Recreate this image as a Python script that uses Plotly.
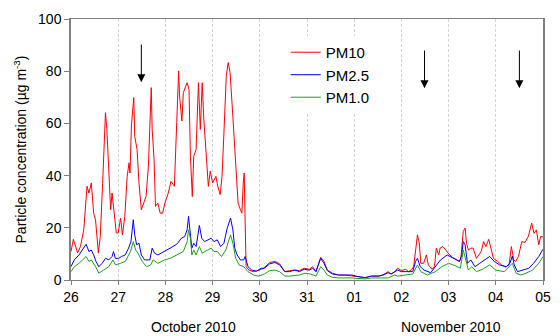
import pandas as pd
import plotly.graph_objects as go

# Particle concentrations, 26 Oct – 5 Nov 2010.
# Times are given in days after 26 Oct 2010 00:00.
start = pd.Timestamp("2010-10-26")

pm10_day = [0.00, 0.05, 0.14, 0.20, 0.27, 0.34, 0.38, 0.43, 0.48, 0.52, 0.58, 0.62, 0.67, 0.71, 0.73,
            0.76, 0.80, 0.84, 0.87, 0.92, 0.96, 1.00, 1.05, 1.09, 1.14, 1.19, 1.23, 1.25, 1.28, 1.33,
            1.35, 1.40, 1.44, 1.49, 1.54, 1.59, 1.64, 1.67, 1.70, 1.72, 1.76, 1.79, 1.84, 1.89, 1.94,
            1.99, 2.06, 2.12, 2.19, 2.24, 2.28, 2.30, 2.35, 2.38, 2.42, 2.46, 2.50, 2.53, 2.57, 2.60,
            2.65, 2.70, 2.74, 2.78, 2.81, 2.86, 2.91, 2.95, 3.00, 3.07, 3.11, 3.16, 3.20, 3.24, 3.29,
            3.33, 3.37, 3.42, 3.47, 3.51, 3.54, 3.59, 3.62, 3.65, 3.67, 3.69, 3.71, 3.77, 3.86, 3.96,
            4.08, 4.21, 4.32, 4.42, 4.53, 4.63, 4.74, 4.84, 4.94, 5.05, 5.12, 5.19, 5.29, 5.36, 5.43,
            5.54, 5.67, 5.81, 5.95, 6.08, 6.23, 6.37, 6.51, 6.61, 6.72, 6.78, 6.85, 6.92, 7.00, 7.09,
            7.15, 7.22, 7.26, 7.34, 7.38, 7.41, 7.47, 7.53, 7.57, 7.65, 7.70, 7.74, 7.79, 7.82, 7.88,
            7.94, 7.99, 8.08, 8.16, 8.23, 8.26, 8.31, 8.35, 8.38, 8.42, 8.47, 8.52, 8.59, 8.64, 8.69,
            8.74, 8.79, 8.85, 8.90, 8.95, 9.04, 9.12, 9.21, 9.28, 9.33, 9.38, 9.42, 9.48, 9.55, 9.62,
            9.69, 9.76, 9.81, 9.86, 9.91, 9.95, 10.00]
pm10_val = [10.9, 15.6, 10.4, 12.8, 19.2, 35.9, 33.3, 37.2, 25.6, 23.0, 10.3, 16.7, 37.0, 53.8, 64.1,
            57.7, 39.7, 26.9, 33.3, 24.4, 18.0, 18.0, 23.7, 17.3, 24.4, 39.7, 44.9, 41.0, 59.0, 69.9,
            55.0, 50.0, 37.2, 26.9, 29.5, 32.0, 43.6, 62.8, 73.7, 57.7, 46.2, 28.2, 29.5, 25.6, 25.6,
            29.5, 33.3, 37.8, 35.9, 60.3, 80.1, 70.5, 60.9, 71.8, 73.7, 75.6, 73.0, 47.4, 32.0, 47.4,
            50.0, 75.6, 57.7, 75.6, 62.8, 50.0, 35.9, 41.7, 37.2, 39.7, 35.9, 32.7, 39.7, 56.4, 78.2,
            83.3, 79.5, 65.4, 51.3, 38.5, 29.5, 26.9, 25.6, 37.2, 41.0, 21.8, 5.1, 3.8, 3.2, 3.6,
            4.5, 6.7, 7.1, 6.2, 3.2, 3.6, 3.8, 3.6, 4.5, 4.1, 5.1, 3.2, 8.7, 7.1, 3.8,
            2.6, 1.9, 1.9, 1.5, 1.3, 0.9, 1.5, 1.5, 1.9, 3.2, 2.3, 3.0, 4.5, 3.6, 4.1,
            3.2, 4.0, 5.1, 17.3, 14.1, 6.4, 6.4, 9.6, 5.8, 4.1, 5.1, 12.2, 9.6, 12.2, 12.8,
            11.5, 10.3, 8.7, 7.7, 7.1, 8.3, 18.6, 19.9, 14.1, 11.5, 12.2, 12.2, 8.3, 9.6, 10.9,
            14.7, 12.8, 15.6, 11.5, 8.3, 7.1, 5.8, 4.9, 5.8, 12.8, 7.7, 7.1, 9.0, 14.7, 14.4,
            16.7, 21.8, 17.9, 19.2, 13.5, 16.7, 16.5]

pm25_day = [0.00, 0.07, 0.17, 0.28, 0.32, 0.38, 0.43, 0.48, 0.53, 0.59, 0.66, 0.73, 0.80, 0.87, 0.90,
            0.94, 1.01, 1.07, 1.15, 1.22, 1.27, 1.32, 1.35, 1.39, 1.44, 1.49, 1.56, 1.67, 1.72, 1.77,
            1.84, 1.91, 1.98, 2.10, 2.24, 2.34, 2.41, 2.46, 2.49, 2.53, 2.56, 2.60, 2.65, 2.72, 2.77,
            2.83, 2.90, 2.97, 3.03, 3.10, 3.17, 3.24, 3.31, 3.38, 3.43, 3.47, 3.52, 3.59, 3.66, 3.69,
            3.75, 3.83, 3.93, 4.03, 4.10, 4.21, 4.32, 4.42, 4.53, 4.63, 4.74, 4.84, 4.94, 5.05, 5.12,
            5.19, 5.29, 5.36, 5.43, 5.54, 5.67, 5.81, 5.95, 6.08, 6.23, 6.37, 6.51, 6.61, 6.72, 6.78,
            6.85, 6.92, 7.00, 7.13, 7.24, 7.30, 7.34, 7.40, 7.48, 7.62, 7.72, 7.83, 7.97, 8.11, 8.23,
            8.28, 8.31, 8.35, 8.40, 8.47, 8.56, 8.66, 8.76, 8.87, 8.97, 9.08, 9.22, 9.30, 9.35, 9.39,
            9.46, 9.60, 9.70, 9.80, 9.91, 10.00]
pm25_val = [5.1, 7.7, 9.6, 12.8, 13.7, 10.9, 11.5, 9.6, 7.1, 5.1, 6.4, 8.3, 7.7, 9.0, 10.9,
            8.3, 8.3, 9.0, 9.6, 12.2, 14.7, 23.1, 17.3, 13.5, 14.1, 9.6, 7.7, 7.7, 12.2, 10.3,
            9.6, 10.3, 10.9, 12.2, 13.7, 16.0, 16.7, 19.2, 24.4, 18.6, 12.2, 14.1, 12.8, 20.9, 16.0,
            14.7, 15.4, 16.0, 14.7, 15.4, 12.8, 14.1, 19.9, 23.7, 19.2, 12.2, 9.6, 7.7, 7.7, 9.0,
            5.1, 3.8, 3.4, 4.5, 4.5, 6.2, 6.7, 5.8, 3.2, 3.2, 3.8, 3.2, 4.1, 3.8, 4.5,
            3.2, 8.3, 6.4, 3.6, 2.3, 1.9, 1.9, 1.9, 1.3, 0.9, 1.5, 1.5, 1.9, 2.8, 2.3,
            3.2, 3.8, 3.2, 3.2, 3.2, 7.1, 8.3, 5.1, 3.8, 2.8, 5.1, 7.7, 9.6, 8.3, 7.1,
            9.6, 14.7, 13.5, 6.4, 7.7, 5.1, 6.4, 7.7, 9.0, 7.1, 5.8, 5.1, 6.4, 9.2, 5.8,
            3.2, 3.8, 4.5, 6.4, 9.0, 11.8]

pm1_day = [0.00, 0.07, 0.17, 0.28, 0.32, 0.38, 0.43, 0.52, 0.59, 0.69, 0.80, 0.89, 0.94, 1.05, 1.15,
           1.26, 1.32, 1.37, 1.42, 1.51, 1.60, 1.69, 1.74, 1.84, 1.98, 2.10, 2.24, 2.38, 2.46, 2.49,
           2.53, 2.56, 2.60, 2.65, 2.72, 2.78, 2.90, 2.97, 3.03, 3.10, 3.19, 3.28, 3.38, 3.43, 3.49,
           3.56, 3.66, 3.75, 3.87, 3.97, 4.10, 4.21, 4.32, 4.42, 4.53, 4.63, 4.84, 4.96, 5.07, 5.19,
           5.29, 5.36, 5.43, 5.54, 5.67, 5.95, 6.23, 6.37, 6.72, 6.85, 6.92, 7.13, 7.24, 7.34, 7.41,
           7.55, 7.72, 7.86, 8.00, 8.14, 8.25, 8.31, 8.36, 8.42, 8.49, 8.59, 8.73, 8.87, 9.00, 9.18,
           9.35, 9.43, 9.53, 9.64, 9.78, 9.91, 10.00]
pm1_val = [3.2, 5.1, 6.4, 8.3, 9.0, 7.1, 7.7, 5.1, 2.6, 3.8, 5.1, 7.7, 5.8, 6.4, 7.1,
           10.9, 14.7, 11.5, 10.3, 7.1, 5.1, 5.8, 7.7, 6.4, 7.7, 8.3, 9.6, 10.9, 14.7, 19.2,
           16.0, 9.6, 11.5, 9.6, 12.8, 10.3, 11.5, 12.2, 10.9, 10.9, 9.0, 11.5, 17.3, 14.1, 8.3,
           5.8, 5.1, 3.2, 1.9, 1.5, 2.3, 3.6, 3.8, 3.2, 1.5, 1.5, 1.9, 2.6, 2.3, 1.5,
           5.1, 3.8, 1.9, 1.0, 0.8, 0.8, 0.4, 0.8, 0.8, 1.9, 1.5, 1.9, 2.3, 5.8, 3.2,
           1.9, 3.2, 5.1, 6.4, 5.5, 4.5, 11.5, 8.3, 3.8, 5.1, 3.2, 4.2, 5.8, 3.8, 3.2,
           6.4, 2.6, 1.9, 2.6, 3.8, 6.4, 9.0]

# Daily ticks and their labels
tick_day = list(range(0, 11))
tick_text = ["26", "27", "28", "29", "30", "31", "01", "02", "03", "04", "05"]
y_ticks = [0, 20, 40, 60, 80, 100]

# Arrow markers: (day offset, tail value, tip value)
arrow_day = [1.49, 7.49, 9.50]
arrow_tail = [90.8, 88.5, 88.5]
arrow_tip = [75.8, 73.5, 73.5]

# Month captions below the day labels
month_text = ["October 2010", "November 2010"]
month_day = [2.6, 8.06]


def to_time(days):
    return start + pd.to_timedelta(pd.Series(days, dtype=float), unit="D")


FONT = "Arial, 'Liberation Sans', sans-serif"

fig = go.Figure()
series = [
    ("PM10", pm10_day, pm10_val, "#ff0000"),
    ("PM2.5", pm25_day, pm25_val, "#0000ff"),
    ("PM1.0", pm1_day, pm1_val, "#1f9f1f"),
]
for name, d, v, c in series:
    fig.add_trace(go.Scatter(x=to_time(d), y=v, mode="lines", name=name,
                             line=dict(color=c, width=1)))

annotations = []
for d, tail, tip in zip(arrow_day, arrow_tail, arrow_tip):
    t = start + pd.Timedelta(days=d)
    annotations.append(dict(x=t, y=tip, ax=t, ay=tail, xref="x", yref="y",
                            axref="x", ayref="y", text="", showarrow=True,
                            arrowhead=2, arrowsize=1.6, arrowwidth=1, arrowcolor="black"))
for txt, d in zip(month_text, month_day):
    annotations.append(dict(x=start + pd.Timedelta(days=d), y=-0.18, xref="x", yref="paper",
                            text=txt, showarrow=False, yanchor="middle",
                            font=dict(family=FONT, size=14, color="black")))

tick_times = [start + pd.Timedelta(days=d) for d in tick_day]

fig.update_layout(
    width=560, height=336,
    margin=dict(l=71, r=9, t=19, b=56),
    paper_bgcolor="white", plot_bgcolor="white",
    font=dict(family=FONT, size=14, color="black"),
    showlegend=True,
    legend=dict(x=0.455, y=0.935, xanchor="left", yanchor="top",
                bgcolor="white", borderwidth=0, tracegroupgap=0,
                font=dict(family=FONT, size=15, color="black"), itemwidth=30),
    annotations=annotations,
    xaxis=dict(
        range=[tick_times[0], tick_times[-1]],
        tickmode="array", tickvals=tick_times, ticktext=tick_text,
        showgrid=True, gridcolor="#d4d4d4", gridwidth=1, griddash="3px,2px",
        showline=True, linecolor="#808080", linewidth=1, mirror=True,
        ticks="outside", ticklen=4, tickcolor="#808080",
        tickfont=dict(family=FONT, size=14, color="black"),
        zeroline=False,
    ),
    yaxis=dict(
        range=[0, 100], tickmode="array", tickvals=y_ticks,
        showgrid=False, zeroline=False,
        showline=True, linecolor="#808080", linewidth=1.5, mirror=True,
        ticks="outside", ticklen=5, tickcolor="#808080",
        tickfont=dict(family=FONT, size=14, color="black"),
        title=dict(text="Particle concentration (µg m<sup>-3</sup>)",
                   font=dict(family=FONT, size=14, color="black"), standoff=8),
    ),
)

fig.write_html("out.html")
